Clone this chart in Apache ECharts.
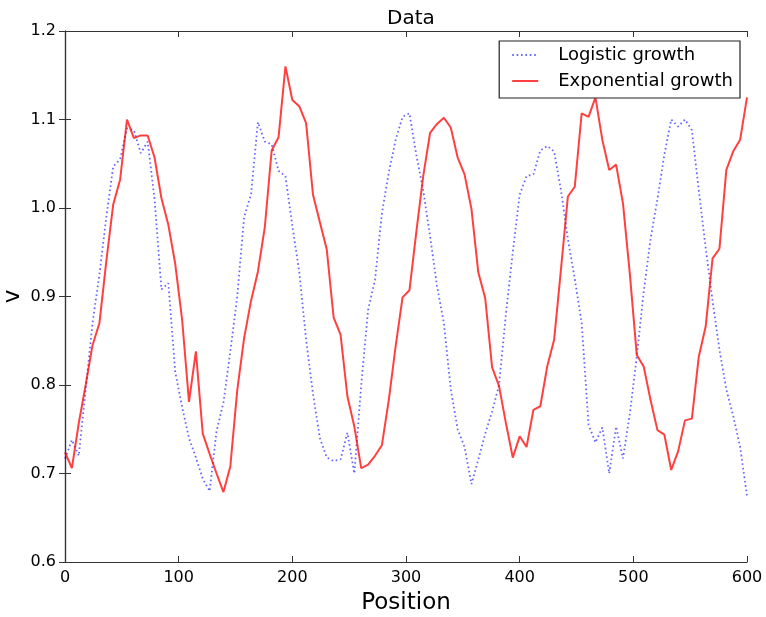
<!DOCTYPE html>
<html>
<head>
<meta charset="utf-8">
<script src="https://cdn.jsdelivr.net/npm/echarts@6/dist/echarts.min.js"></script>
<style>
  html, body { margin: 0; padding: 0; background: #ffffff; }
  #chart { width: 766px; height: 617px; }
</style>
</head>
<body>
<div id="chart"></div>
<script>
// Sample positions (x)
const positions = [
  0, 6.06, 12.12, 18.18, 24.24, 30.30, 36.36, 42.42, 48.48, 54.55,
  60.61, 66.67, 72.73, 78.79, 84.85, 90.91, 96.97, 103.03, 109.09, 115.15,
  121.21, 127.27, 133.33, 139.39, 145.45, 151.52, 157.58, 163.64, 169.70, 175.76,
  181.82, 187.88, 193.94, 200.00, 206.06, 212.12, 218.18, 224.24, 230.30, 236.36,
  242.42, 248.48, 254.55, 260.61, 266.67, 272.73, 278.79, 284.85, 290.91, 296.97,
  303.03, 309.09, 315.15, 321.21, 327.27, 333.33, 339.39, 345.45, 351.52, 357.58,
  363.64, 369.70, 375.76, 381.82, 387.88, 393.94, 400.00, 406.06, 412.12, 418.18,
  424.24, 430.30, 436.36, 442.42, 448.48, 454.55, 460.61, 466.67, 472.73, 478.79,
  484.85, 490.91, 496.97, 503.03, 509.09, 515.15, 521.21, 527.27, 533.33, 539.39,
  545.45, 551.52, 557.58, 563.64, 569.70, 575.76, 581.82, 587.88, 593.94, 600.00
];

const logisticGrowth = [
  0.717, 0.738, 0.720, 0.795, 0.870, 0.925, 0.990, 1.047, 1.055, 1.090,
  1.088, 1.062, 1.075, 1.010, 0.908, 0.915, 0.815, 0.775, 0.740, 0.718,
  0.694, 0.680, 0.748, 0.780, 0.838, 0.900, 0.990, 1.015, 1.097, 1.075,
  1.072, 1.042, 1.036, 0.980, 0.928, 0.851, 0.790, 0.740, 0.718, 0.714,
  0.716, 0.746, 0.700, 0.800, 0.885, 0.919, 0.994, 1.040, 1.077, 1.103,
  1.107, 1.060, 1.020, 0.968, 0.912, 0.870, 0.795, 0.750, 0.730, 0.688,
  0.716, 0.745, 0.770, 0.800, 0.880, 0.950, 1.015, 1.036, 1.038, 1.065,
  1.070, 1.064, 1.020, 0.965, 0.920, 0.870, 0.755, 0.735, 0.752, 0.700,
  0.753, 0.717, 0.768, 0.832, 0.905, 0.965, 1.010, 1.060, 1.100, 1.092,
  1.100, 1.088, 1.020, 0.955, 0.895, 0.840, 0.795, 0.765, 0.730, 0.675
];

const exponentialGrowth = [
  0.724, 0.706, 0.757, 0.800, 0.845, 0.870, 0.940, 1.004, 1.032, 1.100,
  1.079, 1.082, 1.082, 1.057, 1.011, 0.981, 0.937, 0.874, 0.781, 0.838,
  0.745, 0.722, 0.700, 0.679, 0.708, 0.794, 0.853, 0.895, 0.928, 0.978,
  1.065, 1.080, 1.160, 1.122, 1.115, 1.096, 1.015, 0.984, 0.953, 0.876,
  0.857, 0.787, 0.753, 0.706, 0.710, 0.720, 0.732, 0.783, 0.844, 0.899,
  0.907, 0.973, 1.036, 1.085, 1.095, 1.102, 1.091, 1.057, 1.038, 0.999,
  0.927, 0.898, 0.820, 0.799, 0.757, 0.718, 0.742, 0.730, 0.772, 0.776,
  0.821, 0.851, 0.931, 1.013, 1.024, 1.107, 1.103, 1.125, 1.077, 1.043,
  1.049, 1.005, 0.925, 0.834, 0.821, 0.783, 0.749, 0.744, 0.704, 0.725,
  0.760, 0.762, 0.832, 0.866, 0.943, 0.954, 1.043, 1.064, 1.077, 1.125
];

const seriesNames = ['Logistic growth', 'Exponential growth'];
const xTicks = { min: 0, max: 600, interval: 100 };
const yTicks = { min: 0.6, max: 1.2, interval: 0.1 };

const FONT = 'DejaVu Sans';
const pairs = (vals) => vals.map((v, i) => [positions[i], v]);

const axisLineStyle = { show: true, lineStyle: { color: '#333', width: 1.2 } };
const tickStyle = { show: true, inside: true, length: 6, lineStyle: { color: '#333', width: 1 } };

const chart = echarts.init(document.getElementById('chart'), null, { renderer: 'canvas' });
chart.setOption({
  animation: false,
  backgroundColor: '#ffffff',
  title: {
    text: 'Data',
    left: 406, top: 4, textAlign: 'center',
    textStyle: { fontFamily: FONT, fontSize: 20, fontWeight: 'normal', color: '#000' }
  },
  grid: { left: 65, right: 19, top: 31, bottom: 55, containLabel: false, outerBoundsMode: 'none' },
  legend: {
    data: seriesNames,
    orient: 'vertical',
    right: 26, top: 41,
    padding: [5, 7, 8, 12],
    itemGap: 8,
    itemWidth: 26, itemHeight: 14,
    borderColor: '#222', borderWidth: 1.2, borderRadius: 0,
    backgroundColor: '#fff',
    itemStyle: { opacity: 0 },
    textStyle: { fontFamily: FONT, fontSize: 18, color: '#000', padding: [0, 0, 0, 15] }
  },
  xAxis: [
    {
      type: 'value', position: 'bottom', min: xTicks.min, max: xTicks.max, interval: xTicks.interval,
      name: 'Position', nameLocation: 'middle', nameGap: 30, nameMoveOverlap: false,
      nameTextStyle: { fontFamily: FONT, fontSize: 23, color: '#000' },
      axisLine: axisLineStyle, axisTick: tickStyle, splitLine: { show: false },
      axisLabel: { fontFamily: FONT, fontSize: 16, color: '#000', margin: 8 }
    },
    {
      type: 'value', position: 'top', min: xTicks.min, max: xTicks.max, interval: xTicks.interval,
      axisLine: axisLineStyle, axisTick: tickStyle, splitLine: { show: false },
      axisLabel: { show: false }
    }
  ],
  yAxis: [
    {
      type: 'value', position: 'left', min: yTicks.min, max: yTicks.max, interval: yTicks.interval,
      name: 'v', nameLocation: 'middle', nameGap: 40, nameRotate: 90, nameMoveOverlap: false,
      nameTextStyle: { fontFamily: FONT, fontSize: 23, color: '#000' },
      axisLine: axisLineStyle, axisTick: tickStyle, splitLine: { show: false },
      axisLabel: { fontFamily: FONT, fontSize: 16, color: '#000', margin: 9,
                   formatter: (v) => v.toFixed(1) }
    },
    {
      type: 'value', position: 'right', min: yTicks.min, max: yTicks.max, interval: yTicks.interval,
      axisLine: axisLineStyle, axisTick: tickStyle, splitLine: { show: false },
      axisLabel: { show: false }
    }
  ],
  series: [
    {
      name: seriesNames[0], type: 'line', xAxisIndex: 0, yAxisIndex: 0,
      data: pairs(logisticGrowth),
      symbol: 'none', showSymbol: false,
      lineStyle: { color: 'rgba(0,0,255,0.6)', width: 1.8, type: [1.6, 2.8], cap: 'butt' },
      itemStyle: { color: 'rgba(0,0,255,0.6)' }
    },
    {
      name: seriesNames[1], type: 'line', xAxisIndex: 0, yAxisIndex: 0,
      data: pairs(exponentialGrowth),
      symbol: 'none', showSymbol: false,
      lineStyle: { color: 'rgba(255,0,0,0.75)', width: 2 },
      itemStyle: { color: 'rgba(255,0,0,0.75)' }
    }
  ]
});
</script>
</body>
</html>
